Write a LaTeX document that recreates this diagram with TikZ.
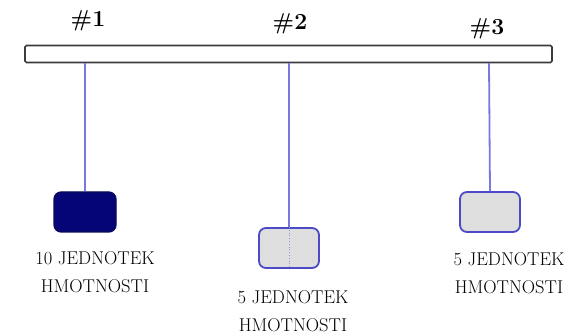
\documentclass[tikz,border=0pt]{standalone}
\usepackage{fontspec}
\definecolor{strcol}{RGB}{120,120,225}
\definecolor{dotcol}{RGB}{150,150,230}
\definecolor{edgecol}{RGB}{75,75,200}
\definecolor{greyfill}{RGB}{222,222,222}
\definecolor{navyedge}{RGB}{10,10,90}
\definecolor{navyfill}{RGB}{5,5,120}
\definecolor{barcol}{RGB}{60,60,60}
\begin{document}
\begin{tikzpicture}[x=1pt,y=-1pt,
  stringline/.style={draw=strcol,line width=1.8pt},
  weightlight/.style={draw=edgecol,line width=1.8pt,fill=greyfill,rounded corners=7pt,minimum width=60pt,minimum height=40pt,inner sep=0pt},
  weightdark/.style={draw=navyedge,line width=1.2pt,fill=navyfill,rounded corners=7pt,minimum width=62pt,minimum height=40pt,inner sep=0pt},
  hashlabel/.style={font=\fontsize{23}{26}\selectfont\bfseries,inner sep=0pt},
  masslabel/.style={font=\fontsize{18.5}{28.5}\selectfont,align=center,inner sep=0pt}]
\useasboundingbox (0,0) rectangle (579,334);
\node[draw=barcol,line width=1.6pt,fill=white,rounded corners=1.5pt,minimum width=527pt,minimum height=17pt,inner sep=0pt] (bar) at (288.5,54) {};
\node[hashlabel] (h1) at (88,21) {\#1};
\node[hashlabel] (h2) at (290,24) {\#2};
\node[hashlabel] (h3) at (487,29) {\#3};
\coordinate (t1) at (85,63);
\coordinate (t2) at (289,63);
\coordinate (t3) at (489,63);
\node[weightdark] (w1) at (85,212) {};
\node[weightlight] (w2) at (289,248) {};
\node[weightlight] (w3) at (490,212) {};
\draw[stringline] (t1) -- (w1.north);
\draw[stringline] (t2) -- (w2.north);
\draw[stringline] (t3) -- (w3.north);
\draw[dotcol,line width=0.8pt,dotted] (w2.north) -- (w2.south);
\node[masslabel,anchor=north] (l1) at (95,251) {10 JEDNOTEK\\HMOTNOSTI};
\node[masslabel,anchor=north] (l2) at (293,290) {5 JEDNOTEK\\HMOTNOSTI};
\node[masslabel,anchor=north] (l3) at (509,252) {5 JEDNOTEK\\HMOTNOSTI};
\end{tikzpicture}
\end{document}
